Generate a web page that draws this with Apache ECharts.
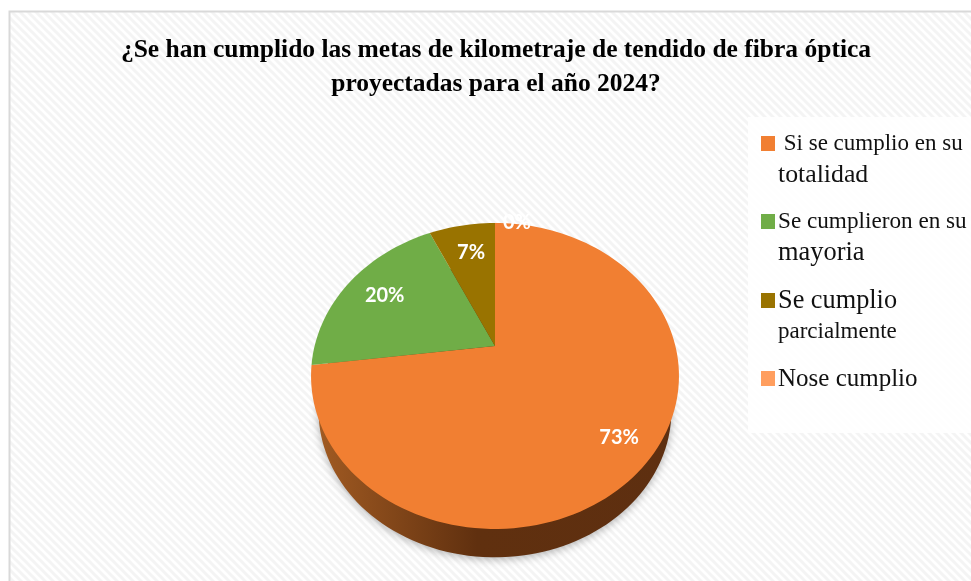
<!DOCTYPE html>
<html>
<head>
<meta charset="utf-8">
<title>Metas de tendido de fibra</title>
<style>
  html, body { margin: 0; padding: 0; background: #fff; }
  #chart { width: 971px; height: 581px; }
</style>
<script src="https://cdn.jsdelivr.net/npm/echarts@6/dist/echarts.min.js"></script>
</head>
<body>
<div id="chart"></div>
<script>
// datos
const categories = [
  ' Si se cumplio en su\ntotalidad',
  'Se cumplieron en su\nmayoria',
  'Se cumplio\nparcialmente',
  'Nose cumplio'
]
const sliceValues = [73, 20, 7, 0]
const sliceLabels = ['73%', '20%', '7%', '0%']
const sliceColors = ['#f17f32', '#70ad47', '#997300', '#ff9e5e']

// pie en perspectiva: centro, radios y fuga
const pie = { cx: 495, cy: 346, a: 180.4, b: 147.1, k: 0.196 }
const wall = { cx: 495, cy: 382, a: 173, b: 141, k: 0.196 }
const labelRadius = 0.82
const labelShift = [[0, 2], [10, 3], [4, 8], [22, -20]]
const legendRows = [144, 222, 301, 379]
const legendFontSizes = [[23, 25.8], [23.2, 26.4], [26.3, 23], [25]]

const total = sliceValues.reduce((sum, v) => sum + v, 0)

function sliceStart(index) {
  let sum = 0
  for (let i = 0; i < index; i++) sum += sliceValues[i]
  return sum
}

// angulo en grados desde arriba, sentido horario
function project(shape, angle, radius) {
  const rad = angle * Math.PI / 180
  const X = Math.sin(rad) * radius
  const Y = -Math.cos(rad) * radius
  const scale = 1 / (1 - shape.k * Y)
  return [shape.cx + shape.a * X * scale, shape.cy + shape.b * Y * scale]
}

function slicePoints(shape, from, to) {
  const points = [[shape.cx, shape.cy]]
  const steps = Math.max(1, Math.ceil((to - from) / 2))
  for (let i = 0; i <= steps; i++) {
    points.push(project(shape, from + (to - from) * i / steps, 1))
  }
  return points
}

function renderTop(params, api) {
  const index = params.seriesIndex - categories.length
  const from = sliceStart(index) / total * 360
  const to = from + api.value(0) / total * 360
  const labelPos = project(pie, (from + to) / 2, labelRadius)
  return {
    type: 'group',
    children: [
      {
        type: 'polygon',
        shape: { points: slicePoints(pie, from, to) },
        style: { fill: sliceColors[index] }
      },
      {
        type: 'text',
        z2: 10,
        style: {
          x: labelPos[0] + labelShift[index][0],
          y: labelPos[1] + labelShift[index][1],
          text: sliceLabels[index],
          fill: '#fff',
          font: 'bold 20px Lato',
          align: 'center',
          verticalAlign: 'middle'
        }
      }
    ]
  }
}

function renderWall(params, api) {
  const index = params.seriesIndex
  const from = sliceStart(index) / total * 360
  const to = from + api.value(0) / total * 360
  return {
    type: 'polygon',
    shape: { points: slicePoints(wall, from, to) },
    style: {
      fill: new echarts.graphic.LinearGradient(319, 0, 671, 0, [
        { offset: 0, color: '#a05a22' },
        { offset: 0.45, color: '#60300f' },
        { offset: 1, color: '#5e2f10' }
      ], true),
      shadowBlur: 8,
      shadowColor: 'rgba(0,0,0,0.3)',
      shadowOffsetY: 2
    }
  }
}

// fondo rayado en diagonal
const tile = document.createElement('canvas')
tile.width = 8
tile.height = 8
const ctx = tile.getContext('2d')
ctx.fillStyle = '#fff'
ctx.fillRect(0, 0, 8, 8)
ctx.strokeStyle = '#f4f4f4'
ctx.lineWidth = 3
for (let i = -8; i <= 8; i += 8) {
  ctx.beginPath()
  ctx.moveTo(i - 2, -2)
  ctx.lineTo(i + 10, 10)
  ctx.stroke()
}

const legendItems = []
categories.forEach((name, i) => {
  legendItems.push({
    type: 'rect',
    shape: { x: 761, y: legendRows[i] - 8, width: 14, height: 15 },
    style: { fill: sliceColors[i] }
  })
  name.split('\n').forEach((line, j) => {
    legendItems.push({
      type: 'text',
      style: {
        x: 778,
        y: legendRows[i] + j * 31,
        text: line,
        fill: '#111',
        font: legendFontSizes[i][j] + 'px "Liberation Serif"',
        verticalAlign: 'middle'
      }
    })
  })
})

const chart = echarts.init(document.getElementById('chart'))
chart.setOption({
  animation: false,
  title: {
    text: '¿Se han cumplido las metas de kilometraje de tendido de fibra óptica\nproyectadas para el año 2024?',
    left: 491,
    top: 28,
    textAlign: 'center',
    textStyle: {
      fontFamily: 'Liberation Serif',
      fontWeight: 'bold',
      fontSize: 25.5,
      lineHeight: 34,
      color: '#000'
    }
  },
  graphic: [
    {
      type: 'rect',
      z: -10,
      silent: true,
      shape: { x: 9.5, y: 11.5, width: 980, height: 600 },
      style: { fill: { image: tile, repeat: 'repeat' }, stroke: '#d9d9d9', lineWidth: 2 }
    },
    {
      type: 'rect',
      z: -9,
      silent: true,
      shape: { x: 748, y: 117, width: 240, height: 316 },
      style: { fill: 'rgba(255,255,255,0.85)' }
    },
    { type: 'group', z: 5, children: legendItems }
  ],
  series: [
    ...categories.map((name, i) => ({
      type: 'custom',
      name: name + ' (lado)',
      coordinateSystem: 'none',
      z: 1,
      silent: true,
      renderItem: renderWall,
      data: [sliceValues[i]]
    })),
    ...categories.map((name, i) => ({
      type: 'custom',
      name: name,
      coordinateSystem: 'none',
      z: 2,
      renderItem: renderTop,
      data: [sliceValues[i]]
    }))
  ]
})
</script>
</body>
</html>
